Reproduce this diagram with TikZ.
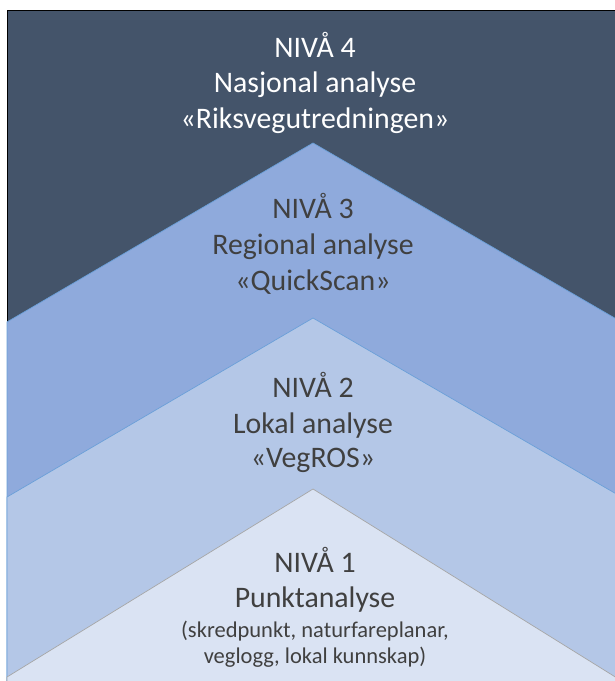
\documentclass[tikz,border=0pt]{standalone}
\usepackage{fontspec}
\setmainfont{Carlito}
\definecolor{darkbg}{HTML}{44546A}
\definecolor{lvthree}{HTML}{8FAADC}
\definecolor{lvtwo}{HTML}{B4C7E7}
\definecolor{lvone}{HTML}{DAE3F3}
\definecolor{blueedge}{HTML}{6A9FD8}
\definecolor{grayedge}{HTML}{A6A6A6}
\definecolor{txt}{HTML}{404040}
\tikzset{
  bigtxt/.style={anchor=base, inner sep=0pt, font=\fontsize{29.8}{36}\selectfont},
  smalltxt/.style={anchor=base, inner sep=0pt, font=\fontsize{22.5}{26}\selectfont},
  band/.style={line width=0.7pt, line join=miter}
}
\begin{document}
\begin{tikzpicture}[x=1pt,y=-1pt]
\useasboundingbox (0,0) rectangle (615,681);
\fill[white] (0,0) rectangle (615,681);
\begin{scope}
\clip (0,0) rectangle (615,681);
\draw[fill=darkbg, draw=black, line width=0.8pt] (7,10) rectangle (625,690);
\draw[band, fill=lvthree, draw=blueedge] (7,322) -- (313,143) -- (625,324) -- (625,690) -- (7,690) -- cycle;
\draw[band, fill=lvtwo, draw=blueedge] (7,497) -- (313,318) -- (625,499) -- (625,690) -- (7,690) -- cycle;
\draw[band, fill=lvone, draw=grayedge] (7,677) -- (313,489) -- (625,683) -- (625,690) -- (7,690) -- cycle;
\end{scope}
\node[bigtxt, text=white] (l4a) at (315,57) {NIVÅ 4};
\node[bigtxt, text=white] (l4b) at (315,92) {Nasjonal analyse};
\node[bigtxt, text=white] (l4c) at (315,128) {«Riksvegutredningen»};
\node[bigtxt, text=txt] (l3a) at (313,218) {NIVÅ 3};
\node[bigtxt, text=txt] (l3b) at (313,254) {Regional analyse};
\node[bigtxt, text=txt] (l3c) at (313,290) {«QuickScan»};
\node[bigtxt, text=txt] (l2a) at (313,397) {NIVÅ 2};
\node[bigtxt, text=txt] (l2b) at (313,433) {Lokal analyse};
\node[bigtxt, text=txt] (l2c) at (313,467) {«VegROS»};
\node[bigtxt, text=txt] (l1a) at (315,572) {NIVÅ 1};
\node[bigtxt, text=txt] (l1b) at (315,607) {Punktanalyse};
\node[smalltxt, text=txt] (l1c) at (315,637) {(skredpunkt, naturfareplanar,};
\node[smalltxt, text=txt] (l1d) at (315,663) {veglogg, lokal kunnskap)};
\end{tikzpicture}
\end{document}
